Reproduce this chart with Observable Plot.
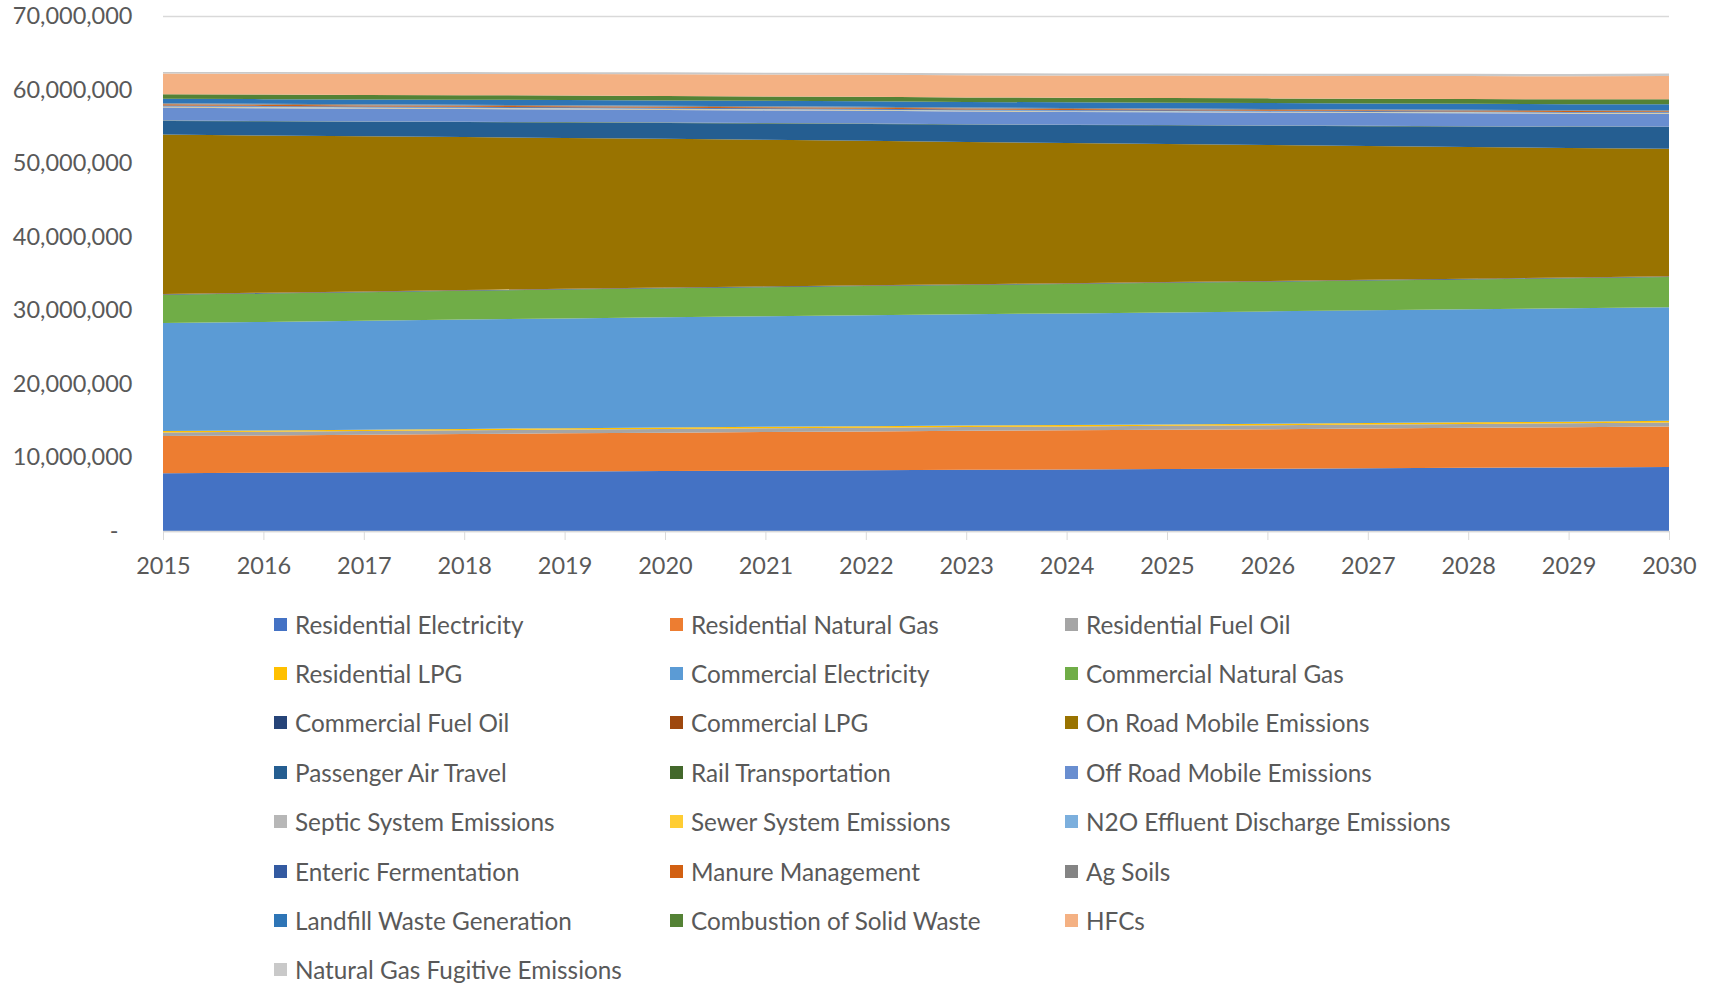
<!DOCTYPE html>
<html>
<head>
<meta charset="utf-8">
<script src="https://cdn.jsdelivr.net/npm/d3@7"></script>
<script src="https://cdn.jsdelivr.net/npm/@observablehq/plot@0.6"></script>
<style>
  html, body { margin: 0; padding: 0; background: #ffffff; }
  body { width: 1713px; height: 984px; overflow: hidden; font-family: Lato, "Open Sans", sans-serif; }
  #chart svg { display: block; }
  #legend { position: relative; width: 1713px; height: 389px; }
  .item { position: absolute; display: flex; align-items: center; height: 30px; white-space: nowrap;
          font-size: 24.3px; color: #595959; }
  .sw { width: 13px; height: 13px; margin-right: 8px; flex: none; }
</style>
</head>
<body>
<div id="chart"></div>
<div id="legend"></div>
<script>
// Years on the horizontal axis
const years = [2015, 2016, 2017, 2018, 2019, 2020, 2021, 2022, 2023, 2024, 2025, 2026, 2027, 2028, 2029, 2030];

// Emission sources, bottom of the stack first
const seriesNames = [
  "Residential Electricity", "Residential Natural Gas", "Residential Fuel Oil",
  "Residential LPG", "Commercial Electricity", "Commercial Natural Gas",
  "Commercial Fuel Oil", "Commercial LPG", "On Road Mobile Emissions",
  "Passenger Air Travel", "Rail Transportation", "Off Road Mobile Emissions",
  "Septic System Emissions", "Sewer System Emissions", "N2O Effluent Discharge Emissions",
  "Enteric Fermentation", "Manure Management", "Ag Soils",
  "Landfill Waste Generation", "Combustion of Solid Waste", "HFCs",
  "Natural Gas Fugitive Emissions"
];

const seriesColors = [
  "#4472C4", "#ED7D31", "#A5A5A5",
  "#FFC000", "#5B9BD5", "#70AD47",
  "#264478", "#9E480E", "#997300",
  "#255E91", "#43682B", "#698ED0",
  "#B7B7B7", "#FFCD33", "#7CAFDD",
  "#335AA1", "#D26012", "#848484",
  "#2E75B6", "#548235", "#F4B183",
  "#C9C9C9"
];

// Annual emissions per source, 2015–2030
const residentialElectricity = [7850000, 7910000, 7970000, 8020000, 8080000, 8140000, 8190000, 8250000, 8310000, 8360000, 8420000, 8470000, 8530000, 8590000, 8640000, 8700000];
const residentialNaturalGas  = [5050000, 5080000, 5120000, 5160000, 5200000, 5230000, 5260000, 5280000, 5300000, 5320000, 5340000, 5370000, 5400000, 5430000, 5460000, 5500000];
const residentialFuelOil     = [500000, 500000, 500000, 510000, 510000, 510000, 520000, 520000, 520000, 530000, 530000, 530000, 540000, 540000, 540000, 550000];
const residentialLPG         = [180000, 180000, 180000, 190000, 190000, 190000, 190000, 200000, 200000, 200000, 200000, 210000, 210000, 210000, 220000, 220000];
const commercialElectricity  = [14680000, 14740000, 14800000, 14860000, 14920000, 14980000, 15030000, 15080000, 15120000, 15170000, 15220000, 15270000, 15310000, 15360000, 15400000, 15450000];
const commercialNaturalGas   = [3850000, 3870000, 3880000, 3900000, 3920000, 3930000, 3950000, 3970000, 3980000, 4000000, 4020000, 4030000, 4050000, 4070000, 4080000, 4100000];
const commercialFuelOil      = [80000, 80000, 80000, 80000, 80000, 80000, 80000, 75000, 75000, 75000, 75000, 75000, 70000, 70000, 70000, 70000];
const commercialLPG          = [30000, 30000, 30000, 30000, 30000, 30000, 30000, 30000, 30000, 30000, 30000, 30000, 30000, 30000, 30000, 30000];
const onRoadMobile           = [21660000, 21370000, 21080000, 20790000, 20500000, 20220000, 19930000, 19640000, 19350000, 19060000, 18780000, 18490000, 18200000, 17910000, 17620000, 17340000];
const passengerAirTravel     = [1860000, 1920000, 1980000, 2040000, 2100000, 2160000, 2220000, 2290000, 2360000, 2440000, 2520000, 2600000, 2680000, 2770000, 2860000, 2950000];
const railTransportation     = [50000, 50000, 50000, 50000, 50000, 50000, 50000, 50000, 50000, 50000, 50000, 50000, 50000, 50000, 50000, 50000];
const offRoadMobile          = [1730000, 1730000, 1720000, 1720000, 1720000, 1720000, 1720000, 1720000, 1720000, 1730000, 1730000, 1740000, 1750000, 1750000, 1760000, 1770000];
const septicSystem           = [100000, 97000, 95000, 92000, 90000, 87000, 85000, 82000, 80000, 77000, 75000, 72000, 70000, 67000, 64000, 60000];
const sewerSystem            = [30000, 30000, 29000, 28000, 28000, 27000, 26000, 26000, 25000, 24000, 24000, 23000, 22000, 22000, 21000, 20000];
const n2oEffluent            = [100000, 98000, 96000, 94000, 92000, 90000, 88000, 86000, 84000, 82000, 80000, 78000, 76000, 74000, 72000, 70000];
const entericFermentation    = [100000, 99000, 97000, 96000, 95000, 93000, 92000, 91000, 89000, 88000, 87000, 85000, 84000, 83000, 81000, 80000];
const manureManagement       = [150000, 147000, 143000, 140000, 137000, 133000, 130000, 127000, 123000, 120000, 117000, 113000, 110000, 107000, 103000, 100000];
const agSoils                = [150000, 148000, 146000, 144000, 142000, 140000, 138000, 136000, 134000, 132000, 130000, 128000, 126000, 124000, 122000, 120000];
const landfillWaste          = [590000, 620000, 650000, 680000, 700000, 720000, 740000, 760000, 770000, 780000, 790000, 800000, 800000, 810000, 810000, 820000];
const combustionSolidWaste   = [630000, 620000, 620000, 610000, 610000, 600000, 600000, 600000, 610000, 620000, 630000, 640000, 650000, 660000, 670000, 680000];
const hfcs                   = [2800000, 2830000, 2860000, 2890000, 2920000, 2950000, 2970000, 2990000, 3010000, 3030000, 3050000, 3070000, 3090000, 3110000, 3140000, 3170000];
const naturalGasFugitive     = [230000, 240000, 240000, 250000, 250000, 260000, 260000, 270000, 270000, 280000, 280000, 290000, 290000, 300000, 310000, 320000];

const seriesValues = [
  residentialElectricity, residentialNaturalGas, residentialFuelOil,
  residentialLPG, commercialElectricity, commercialNaturalGas,
  commercialFuelOil, commercialLPG, onRoadMobile,
  passengerAirTravel, railTransportation, offRoadMobile,
  septicSystem, sewerSystem, n2oEffluent,
  entericFermentation, manureManagement, agSoils,
  landfillWaste, combustionSolidWaste, hfcs,
  naturalGasFugitive
];

// Vertical axis ticks
const yTicks = [0, 10000000, 20000000, 30000000, 40000000, 50000000, 60000000, 70000000];

// Long-format table for the stacked areas
const rows = [];
seriesNames.forEach((name, i) => {
  years.forEach((year, j) => rows.push({source: name, year, value: seriesValues[i][j]}));
});

const textColor = "#595959";
const lineColor = "#d9d9d9";
const fmt = d3.format(",");

const chart = Plot.plot({
  width: 1713,
  height: 595,
  marginLeft: 163,
  marginRight: 44,
  marginTop: 16,
  marginBottom: 64,
  style: {fontFamily: "Lato, 'Open Sans', sans-serif", fontSize: "23.5px", color: textColor, background: "#ffffff"},
  x: {type: "linear", domain: [years[0], years[years.length - 1]]},
  y: {domain: [0, yTicks[yTicks.length - 1]]},
  color: {domain: seriesNames, range: seriesColors},
  marks: [
    Plot.gridY(yTicks, {stroke: lineColor, strokeOpacity: 1, strokeWidth: 1.3}),
    Plot.areaY(rows, {x: "year", y: "value", fill: "source", z: "source", order: seriesNames, curve: "linear"}),
    Plot.ruleY([0], {stroke: lineColor, strokeWidth: 1.3}),
    Plot.axisX({ticks: years, tickFormat: d => String(d), tickSize: 9, tickPadding: 17,
                stroke: lineColor, fill: textColor, fontSize: 23.5, label: null}),
    Plot.axisY({ticks: yTicks.filter(d => d > 0), tickFormat: fmt, tickSize: 0, tickPadding: 31,
                fill: textColor, fontSize: 23.5, label: null}),
    Plot.text([yTicks[0]], {x: years[0], y: d => d, text: () => "-", textAnchor: "end",
                dx: -45, fill: textColor, fontSize: 23.5})
  ]
});
document.getElementById("chart").appendChild(chart);

// Legend below the plot: three columns, filled row by row
const legend = document.getElementById("legend");
const colLeft = [274, 670, 1065];
const rowTop = 29, rowStep = 49.4;
seriesNames.forEach((name, i) => {
  const item = document.createElement("div");
  item.className = "item";
  item.style.left = colLeft[i % 3] + "px";
  item.style.top = (rowTop + Math.floor(i / 3) * rowStep - 15) + "px";
  const sw = document.createElement("span");
  sw.className = "sw";
  sw.style.background = seriesColors[i];
  const label = document.createElement("span");
  label.textContent = name;
  item.appendChild(sw);
  item.appendChild(label);
  legend.appendChild(item);
});
</script>
</body>
</html>
